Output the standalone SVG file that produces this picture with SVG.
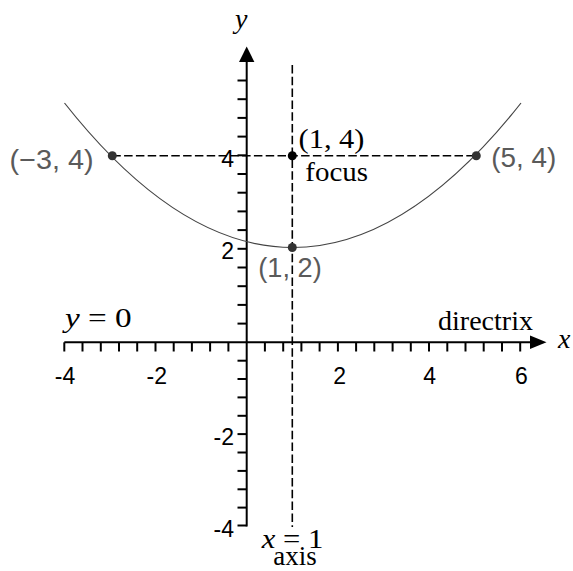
<svg xmlns="http://www.w3.org/2000/svg" width="573" height="571" viewBox="0 0 573 571">
<style>
.axis{stroke:#000;stroke-width:2;fill:none}
.tick{stroke:#000;stroke-width:2}
.dash{stroke:#000;stroke-width:1.6;stroke-dasharray:8.5 3.3;fill:none}
.curve{stroke:#444;stroke-width:1.2;fill:none}
.num{font-family:"Liberation Sans",Arial,sans-serif;font-size:23px;fill:#000}
.coord{font-family:"Liberation Sans",Arial,sans-serif;font-size:28px;fill:#5a5a5a}
.ser{font-family:"Liberation Serif","Times New Roman",serif;font-size:28px;fill:#000}
.it{font-style:italic}
</style>
<rect width="573" height="571" fill="#fff"/>
<g id="axes">
<line class="axis" x1="64.3" y1="342.3" x2="532" y2="342.3"/>
<polygon points="546.5,342.3 530,335.6 530,349" fill="#000"/>
<line class="axis" x1="246.7" y1="526.5" x2="246.7" y2="60"/>
<polygon points="246.7,46.5 239,62 254.4,62" fill="#000"/>
<g id="xticks" class="tick">
<line x1="64.3" y1="342.3" x2="64.3" y2="351.5"/><line x1="82.5" y1="342.3" x2="82.5" y2="351.5"/><line x1="100.8" y1="342.3" x2="100.8" y2="351.5"/><line x1="119" y1="342.3" x2="119" y2="351.5"/><line x1="137.2" y1="342.3" x2="137.2" y2="351.5"/><line x1="155.5" y1="342.3" x2="155.5" y2="351.5"/><line x1="173.7" y1="342.3" x2="173.7" y2="351.5"/><line x1="191.9" y1="342.3" x2="191.9" y2="351.5"/><line x1="210.1" y1="342.3" x2="210.1" y2="351.5"/><line x1="228.4" y1="342.3" x2="228.4" y2="351.5"/><line x1="264.9" y1="342.3" x2="264.9" y2="351.5"/><line x1="283.2" y1="342.3" x2="283.2" y2="351.5"/><line x1="301.4" y1="342.3" x2="301.4" y2="351.5"/><line x1="319.6" y1="342.3" x2="319.6" y2="351.5"/><line x1="337.9" y1="342.3" x2="337.9" y2="351.5"/><line x1="356.1" y1="342.3" x2="356.1" y2="351.5"/><line x1="374.3" y1="342.3" x2="374.3" y2="351.5"/><line x1="392.6" y1="342.3" x2="392.6" y2="351.5"/><line x1="410.8" y1="342.3" x2="410.8" y2="351.5"/><line x1="429" y1="342.3" x2="429" y2="351.5"/><line x1="447.3" y1="342.3" x2="447.3" y2="351.5"/><line x1="465.5" y1="342.3" x2="465.5" y2="351.5"/><line x1="483.7" y1="342.3" x2="483.7" y2="351.5"/><line x1="502" y1="342.3" x2="502" y2="351.5"/><line x1="520.2" y1="342.3" x2="520.2" y2="351.5"/>
</g>
<g id="yticks" class="tick">
<line x1="237.5" y1="323.6" x2="246.7" y2="323.6"/><line x1="237.5" y1="304.9" x2="246.7" y2="304.9"/><line x1="237.5" y1="286.2" x2="246.7" y2="286.2"/><line x1="237.5" y1="267.5" x2="246.7" y2="267.5"/><line x1="237.5" y1="248.8" x2="246.7" y2="248.8"/><line x1="237.5" y1="230.1" x2="246.7" y2="230.1"/><line x1="237.5" y1="211.4" x2="246.7" y2="211.4"/><line x1="237.5" y1="192.7" x2="246.7" y2="192.7"/><line x1="237.5" y1="174" x2="246.7" y2="174"/><line x1="237.5" y1="155.3" x2="246.7" y2="155.3"/><line x1="237.5" y1="136.6" x2="246.7" y2="136.6"/><line x1="237.5" y1="117.9" x2="246.7" y2="117.9"/><line x1="237.5" y1="99.2" x2="246.7" y2="99.2"/><line x1="237.5" y1="80.5" x2="246.7" y2="80.5"/>
<line x1="237.5" y1="360.7" x2="246.7" y2="360.7"/><line x1="237.5" y1="379" x2="246.7" y2="379"/><line x1="237.5" y1="397.4" x2="246.7" y2="397.4"/><line x1="237.5" y1="415.8" x2="246.7" y2="415.8"/><line x1="237.5" y1="434.1" x2="246.7" y2="434.1"/><line x1="237.5" y1="452.5" x2="246.7" y2="452.5"/><line x1="237.5" y1="470.9" x2="246.7" y2="470.9"/><line x1="237.5" y1="489.3" x2="246.7" y2="489.3"/><line x1="237.5" y1="507.6" x2="246.7" y2="507.6"/><line x1="237.5" y1="525.5" x2="246.7" y2="525.5"/>
</g>
<g id="ticklabels" class="num">
<text x="65" y="383.5" text-anchor="middle">-4</text>
<text x="156.7" y="383.5" text-anchor="middle">-2</text>
<text x="339.7" y="383.5" text-anchor="middle">2</text>
<text x="429.7" y="383.5" text-anchor="middle">4</text>
<text x="521.3" y="383.5" text-anchor="middle">6</text>
<text x="234" y="166.5" text-anchor="end">4</text>
<text x="234" y="258.5" text-anchor="end">2</text>
<text x="234" y="445" text-anchor="end">-2</text>
<text x="234" y="536.5" text-anchor="end">-4</text>
</g>
<text class="ser it" x="558" y="348">x</text>
<text class="ser it" x="235" y="28">y</text>
</g>
<g id="connectors">
<line class="dash" x1="292.3" y1="65" x2="292.3" y2="527"/>
<line class="dash" x1="112.3" y1="155.7" x2="476.3" y2="155.7"/>
</g>
<g id="parabola">
<path class="curve" d="M64.5,103 Q292.5,392 521,103"/>
</g>
<g id="point-m3-4">
<circle cx="112.3" cy="155.7" r="4.5" fill="#333"/>
<text class="coord" x="9.5" y="169" textLength="84" lengthAdjust="spacingAndGlyphs">(−3, 4)</text>
</g>
<g id="point-focus">
<circle cx="292.3" cy="155.7" r="4.5" fill="#000"/>
<text class="ser" x="298.5" y="148.3" textLength="66" lengthAdjust="spacingAndGlyphs">(1, 4)</text>
<text class="ser" x="305.3" y="181" textLength="62.7" lengthAdjust="spacingAndGlyphs">focus</text>
</g>
<g id="point-5-4">
<circle cx="476.3" cy="155.7" r="4.5" fill="#333"/>
<text class="coord" x="491.3" y="166.5" textLength="65" lengthAdjust="spacingAndGlyphs">(5, 4)</text>
</g>
<g id="point-vertex">
<circle cx="292.3" cy="247.5" r="4.5" fill="#333"/>
<text class="coord" x="258.3" y="277" textLength="63.4" lengthAdjust="spacingAndGlyphs">(1, 2)</text>
</g>
<g id="directrix">
<text class="ser" x="65" y="326.5" textLength="66.7" lengthAdjust="spacingAndGlyphs"><tspan class="it">y</tspan> = 0</text>
<text class="ser" x="438" y="330" textLength="95" lengthAdjust="spacingAndGlyphs">directrix</text>
</g>
<g id="axis-label">
<text class="ser" x="261.7" y="548" font-size="26" textLength="61.6" lengthAdjust="spacingAndGlyphs"><tspan class="it">x</tspan> = 1</text>
<text class="ser" x="273.3" y="565" font-size="24" textLength="43.3" lengthAdjust="spacingAndGlyphs">axis</text>
</g>
</svg>
